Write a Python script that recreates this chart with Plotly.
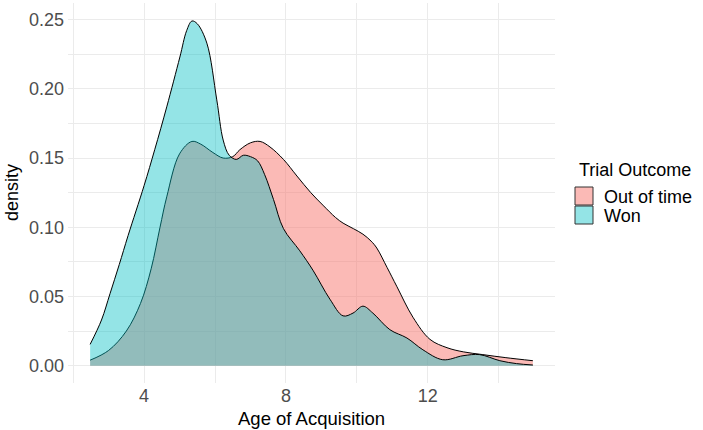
import plotly.graph_objects as go

# Density estimates
oot_x = [2.48, 3.0, 3.5, 3.9, 4.2, 4.45, 4.64, 5.0, 5.35, 5.6, 5.94, 6.23, 6.5, 6.7, 7.0, 7.27,
         7.55, 7.93, 8.31, 8.7, 9.04, 9.4, 9.61, 9.9, 10.17, 10.4, 10.56, 10.85, 11.13, 11.58,
         12.06, 12.54, 13.0, 13.55, 14.2, 14.96]
oot_y = [0.004, 0.011, 0.025, 0.045, 0.070, 0.100, 0.122, 0.153, 0.162, 0.160, 0.154, 0.150,
         0.151, 0.156, 0.161, 0.162, 0.158, 0.149, 0.137, 0.125, 0.116, 0.107, 0.103, 0.099,
         0.095, 0.090, 0.085, 0.071, 0.057, 0.035, 0.019, 0.013, 0.010, 0.008, 0.0058, 0.0036]

won_x = [2.48, 2.8, 3.04, 3.3, 3.55, 4.0, 4.3, 4.64, 5.01, 5.2, 5.35, 5.5, 5.77, 6.05, 6.23,
         6.4, 6.6, 6.8, 7.0, 7.2, 7.4, 7.65, 7.93, 8.39, 8.76, 9.24, 9.61, 9.89, 10.17, 10.45,
         10.93, 11.41, 11.86, 12.42, 12.99, 13.46, 14.03, 14.5, 14.96]
won_y = [0.0154, 0.033, 0.052, 0.073, 0.094, 0.130, 0.156, 0.187, 0.223, 0.242, 0.249, 0.247,
         0.233, 0.192, 0.163, 0.152, 0.149, 0.152, 0.151, 0.148, 0.138, 0.120, 0.099, 0.083,
         0.069, 0.048, 0.036, 0.038, 0.043, 0.038, 0.026, 0.020, 0.0115, 0.0043, 0.0072, 0.0080,
         0.0036, 0.0015, 0.0005]

series_names = ["Out of time", "Won"]
x_ticks = [4, 8, 12]
y_ticks = [0.00, 0.05, 0.10, 0.15, 0.20, 0.25]
y_tick_labels = ["0.00", "0.05", "0.10", "0.15", "0.20", "0.25"]

FONT = "Liberation Sans, Arial, sans-serif"
RED = "rgba(248,118,109,0.5)"
CYAN = "rgba(0,191,196,0.42)"
fills = [RED, CYAN]

W, H = 703, 430
L, R, T, B = 68, 148, 3, 47
PW, PH = W - L - R, H - T - B


def px(X):
    return (X - L) / PW


def py(Y):
    return (H - B - Y) / PH


fig = go.Figure()
for xs, ys, name, col in [(oot_x, oot_y, series_names[0], RED), (won_x, won_y, series_names[1], CYAN)]:
    fig.add_trace(go.Scatter(
        x=xs, y=ys, name=name, mode="lines", showlegend=False,
        line=dict(color="black", width=1.0, shape="spline", smoothing=1.0),
        fill="tozeroy", fillcolor=col,
    ))

# manual legend (ggplot-style boxes)
shapes = []
annotations = [
    dict(text="Trial Outcome", xref="paper", yref="paper", x=px(577), y=py(170),
         xanchor="left", yanchor="middle", showarrow=False, font=dict(size=18, color="black")),
]
for i, (name, col) in enumerate(zip(series_names, fills)):
    top = 187 + i * 19
    shapes.append(dict(type="rect", xref="paper", yref="paper",
                       x0=px(575), x1=px(593), y0=py(top + 18), y1=py(top),
                       fillcolor=col, line=dict(color="#333333", width=1)))
    annotations.append(dict(text=name, xref="paper", yref="paper", x=px(602), y=py(top + 9.5),
                            xanchor="left", yanchor="middle", showarrow=False,
                            font=dict(size=18, color="black")))

annotations += [
    dict(text="Age of Acquisition", xref="paper", yref="paper", x=0.5, y=py(418),
         xanchor="center", yanchor="middle", showarrow=False,
         font=dict(size=18.5, color="black")),
    dict(text="density", xref="paper", yref="paper", x=px(12), y=0.5,
         xanchor="center", yanchor="middle", textangle=-90,
         showarrow=False, font=dict(size=18, color="black")),
]

grid = "#EBEBEB"
fig.update_layout(
    width=W, height=H,
    margin=dict(l=L, r=R, t=T, b=B, autoexpand=False),
    plot_bgcolor="white", paper_bgcolor="white",
    font=dict(family=FONT, size=18, color="black"),
    showlegend=False,
    xaxis=dict(
        range=[1.856, 15.584], tickvals=x_ticks, ticktext=[str(v) for v in x_ticks],
        showgrid=True, gridcolor=grid, gridwidth=1.1, zeroline=False, showline=False,
        ticks="", tickfont=dict(size=18, color="#4D4D4D"), automargin=False,
        minor=dict(tickvals=[2, 6, 10, 14], showgrid=True, gridcolor=grid, gridwidth=0.55),
    ),
    yaxis=dict(
        range=[-0.0125, 0.262], tickvals=y_ticks, ticktext=y_tick_labels,
        showgrid=True, gridcolor=grid, gridwidth=1.1, zeroline=False, showline=False,
        ticks="", tickfont=dict(size=18, color="#4D4D4D"), automargin=False,
        ticklabelstandoff=3,
        minor=dict(tickvals=[0.025, 0.075, 0.125, 0.175, 0.225], showgrid=True,
                   gridcolor=grid, gridwidth=0.55),
    ),
    shapes=shapes,
    annotations=annotations,
)

fig.write_html("out.html", config={"displayModeBar": False},
               post_script="document.body.style.margin='0';")
